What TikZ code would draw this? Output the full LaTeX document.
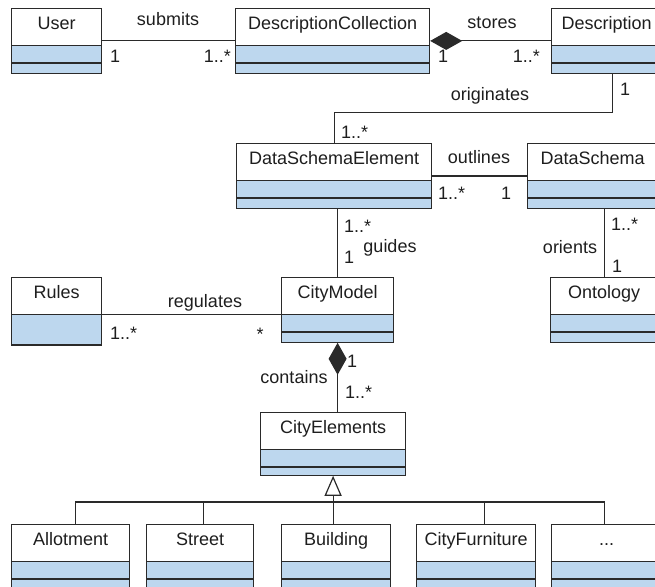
\documentclass[tikz,border=0pt]{standalone}
\usepackage{fontspec}
\setmainfont{Liberation Sans}
\usepackage{tikz}
\usetikzlibrary{arrows.meta,shapes.multipart}
\definecolor{attr}{HTML}{BDD7EE}
\definecolor{ink}{HTML}{1E1E1E}
\definecolor{edge}{HTML}{2A2A2A}
\newcommand{\umlfont}{\fontsize{18}{21}\selectfont}
\newcommand{\umlname}[1]{\rule[-16pt]{0pt}{36pt}#1}
\newcommand{\umlattr}{\rule{0pt}{16pt}}
\newcommand{\umlop}{\rule{0pt}{9pt}}

\begin{document}
\begin{tikzpicture}[x=1pt,y=-1pt,text=ink,
  cls/.style={rectangle split,rectangle split parts=3,rectangle split part fill={white,attr,attr},
    draw=edge,line width=1.2pt,inner xsep=0pt,inner ysep=0pt,anchor=north west,font=\umlfont,minimum width=#1},
  cls2/.style={cls=#1,rectangle split parts=2},
  assoc/.style={draw=edge,line width=1.2pt},
  comp/.style={assoc,{Diamond[length=32pt,width=18pt]}-},
  gen/.style={assoc,{Triangle[open,length=20pt,width=17pt]}-},
  lbl/.style={font=\umlfont,inner sep=0pt}]
\useasboundingbox (0,0) rectangle (655,586);
\clip (0,0) rectangle (655,586);

% ---------- classes ----------
\node[cls=90] (user) at (11,8) {\umlname{User}\nodepart{two}\umlattr\nodepart{three}\umlop};
\node[cls=194] (coll) at (235,8) {\umlname{DescriptionCollection}\nodepart{two}\umlattr\nodepart{three}\umlop};
\node[cls=110] (desc) at (551,8) {\umlname{Description}\nodepart{two}\umlattr\nodepart{three}\umlop};
\node[cls=195] (dse) at (236,143) {\umlname{DataSchemaElement}\nodepart{two}\umlattr\nodepart{three}\umlop};
\node[cls=130] (ds) at (527,143) {\umlname{DataSchema}\nodepart{two}\umlattr\nodepart{three}\umlop};
\node[cls2=90] (rules) at (11,277) {\umlname{Rules}\nodepart{two}\rule{0pt}{29pt}};
\node[cls=112] (cm) at (281,277) {\umlname{CityModel}\nodepart{two}\umlattr\nodepart{three}\umlop};
\node[cls=107] (onto) at (550,277) {\umlname{Ontology}\nodepart{two}\umlattr\nodepart{three}\umlop};
\node[cls=145] (ce) at (260,412) {\umlname{CityElements}\nodepart{two}\umlattr\nodepart{three}\rule{0pt}{7pt}};

% ---------- subclasses ----------
\node[cls=118] (allot) at (11,524) {\umlname{Allotment}\nodepart{two}\umlattr\nodepart{three}\umlop};
\node[cls=107] (street) at (146,524) {\umlname{Street}\nodepart{two}\umlattr\nodepart{three}\umlop};
\node[cls=109] (bldg) at (281,524) {\umlname{Building}\nodepart{two}\umlattr\nodepart{three}\umlop};
\node[cls=119] (furn) at (416,524) {\umlname{CityFurniture}\nodepart{two}\umlattr\nodepart{three}\umlop};
\node[cls=110] (more) at (551,524) {\umlname{...}\nodepart{two}\umlattr\nodepart{three}\umlop};

% ---------- associations ----------
\draw[assoc] (user.east) -- (coll.west);
\draw[comp] (coll.east) -- (desc.west);
\draw[assoc] ([xshift=6pt]desc.south) -- ++(0,39) -| (dse.north);
\draw[assoc] (dse.east) -- (ds.west);
\draw[assoc] (cm.north) -- (cm.north |- dse.south);
\draw[assoc] (onto.north) -- (onto.north |- ds.south);
\draw[assoc] (rules.text split east) -- (cm.text split west);
\draw[comp] (cm.south) -- (cm.south |- ce.north);

% ---------- generalisation ----------
\coordinate (bus) at (0,502);
\draw[gen] (ce.south) -- (ce.south |- bldg.north);
\draw[assoc] ([xshift=5pt]allot.north) |- ([xshift=-2pt]bus -| more.north) -- ([xshift=-2pt]more.north);
\draw[assoc] ([xshift=3pt]street.north) -- ([xshift=3pt]street.north |- bus);
\draw[assoc] ([xshift=8pt]furn.north) -- ([xshift=8pt]furn.north |- bus);

% ---------- labels ----------
\node[lbl,anchor=base] (l-submits) at (168,26) {submits};
\node[lbl,anchor=base west] (m-user) at (110,63) {1};
\node[lbl,anchor=base east] (m-coll) at (231,63) {1..*};
\node[lbl,anchor=base] (l-stores) at (492,29) {stores};
\node[lbl,anchor=base west] (m-coll2) at (438,63) {1};
\node[lbl,anchor=base east] (m-desc) at (540,63) {1..*};
\node[lbl,anchor=base] (l-orig) at (490,100) {originates};
\node[lbl,anchor=base west] (m-desc2) at (620,95) {1};
\node[lbl,anchor=base west] (m-dse) at (341,138) {1..*};
\node[lbl,anchor=base] (l-outl) at (479,163) {outlines};
\node[lbl,anchor=base west] (m-dse2) at (438,199) {1..*};
\node[lbl,anchor=base west] (m-ds) at (501,199) {1};
\node[lbl,anchor=base west] (m-dse3) at (344,232) {1..*};
\node[lbl,anchor=base] (l-guides) at (390,252) {guides};
\node[lbl,anchor=base west] (m-cm) at (344,263) {1};
\node[lbl,anchor=base west] (m-ds2) at (611,230) {1..*};
\node[lbl,anchor=base] (l-orients) at (570,253) {orients};
\node[lbl,anchor=base west] (m-onto) at (612,272) {1};
\node[lbl,anchor=base] (l-reg) at (205,307) {regulates};
\node[lbl,anchor=base west] (m-rules) at (110,339) {1..*};
\node[lbl,anchor=base] (m-cm2) at (260,340) {*};
\node[lbl,anchor=base west] (m-cm3) at (347,367) {1};
\node[lbl,anchor=base] (l-cont) at (294,383) {contains};
\node[lbl,anchor=base west] (m-ce) at (345,398) {1..*};
\end{tikzpicture}
\end{document}
